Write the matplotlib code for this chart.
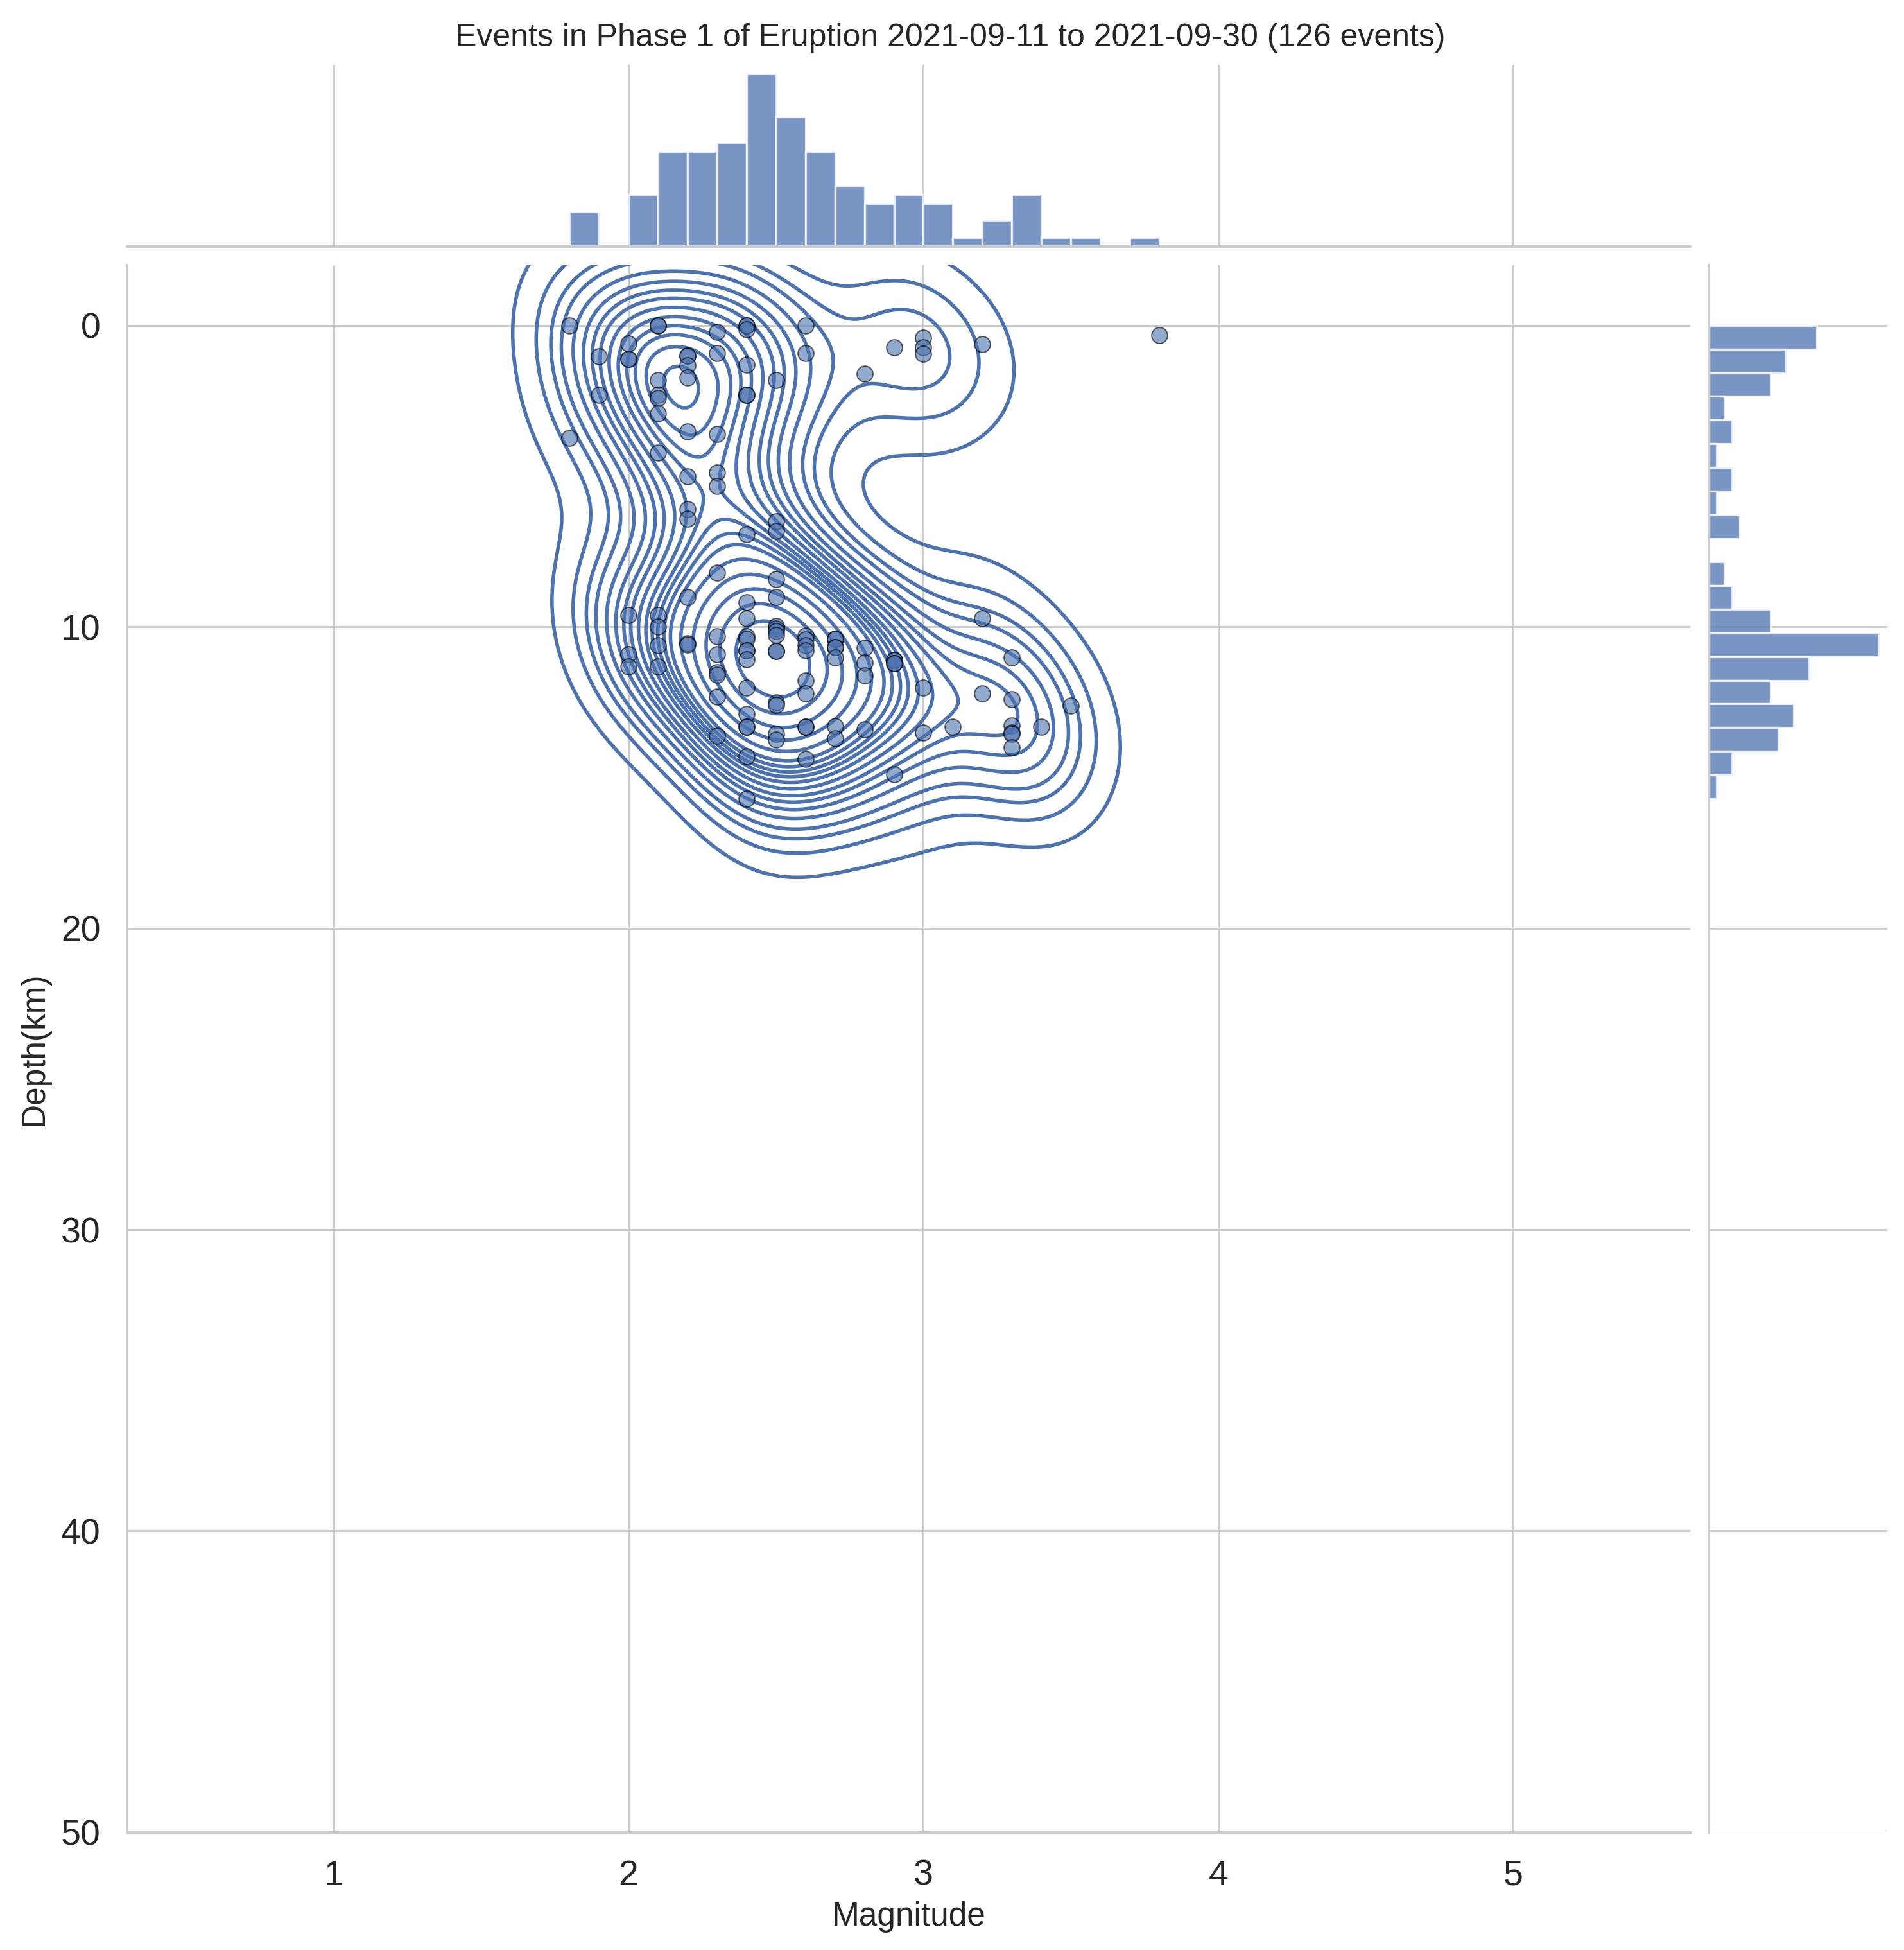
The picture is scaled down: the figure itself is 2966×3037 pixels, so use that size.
import numpy as np
import matplotlib
matplotlib.use("Agg")
import matplotlib.pyplot as plt
import seaborn as sns

# events, grouped by magnitude (one entry per event)
magnitude = [1.8, 1.8,
             1.9, 1.9,
             2.0, 2.0, 2.0, 2.0, 2.0, 2.0,
             2.1, 2.1, 2.1, 2.1, 2.1, 2.1, 2.1, 2.1, 2.1, 2.1, 2.1,
             2.2, 2.2, 2.2, 2.2, 2.2, 2.2, 2.2, 2.2, 2.2, 2.2, 2.2,
             2.3, 2.3, 2.3, 2.3, 2.3, 2.3, 2.3, 2.3, 2.3, 2.3, 2.3, 2.3,
             2.4, 2.4, 2.4, 2.4, 2.4, 2.4, 2.4, 2.4, 2.4, 2.4,
             2.4, 2.4, 2.4, 2.4, 2.4, 2.4, 2.4, 2.4, 2.4, 2.4,
             2.5, 2.5, 2.5, 2.5, 2.5, 2.5, 2.5, 2.5, 2.5, 2.5, 2.5, 2.5, 2.5, 2.5, 2.5,
             2.6, 2.6, 2.6, 2.6, 2.6, 2.6, 2.6, 2.6, 2.6, 2.6, 2.6,
             2.7, 2.7, 2.7, 2.7, 2.7, 2.7, 2.7,
             2.8, 2.8, 2.8, 2.8, 2.8,
             2.9, 2.9, 2.9, 2.9, 2.9, 2.9,
             3.0, 3.0, 3.0, 3.0, 3.0,
             3.1,
             3.2, 3.2, 3.2,
             3.3, 3.3, 3.3, 3.3, 3.3, 3.3,
             3.4,
             3.5,
             3.8]
depth = [0.0, 3.72,
         1.02, 2.31,
         0.59, 1.12, 1.12, 9.60, 10.90, 11.32,
         0.0, 0.0, 1.81, 2.30, 2.40, 2.92, 4.22, 9.60, 10.0, 10.61, 11.31,
         1.0, 1.0, 1.32, 1.73, 3.51, 5.01, 6.10, 6.41, 9.01, 10.54, 10.6,
         0.22, 0.91, 3.61, 4.89, 5.32, 8.21, 10.31, 10.90, 11.5, 11.59, 12.32, 13.61,
         0.0, 0.0, 0.13, 1.30, 2.31, 2.31, 6.92, 9.19, 9.72, 10.31,
         10.4, 10.79, 10.79, 11.07, 12.02, 12.90, 13.31, 13.31, 14.30, 15.70,
         1.81, 6.49, 6.81, 8.41, 9.01, 9.97, 10.05, 10.15, 10.26, 10.81, 10.81, 12.5, 12.6, 13.56, 13.74,
         0.0, 0.91, 10.29, 10.43, 10.61, 10.79, 11.79, 12.21, 13.31, 13.31, 14.39,
         10.4, 10.4, 10.68, 10.68, 11.02, 13.3, 13.69,
         1.61, 10.70, 11.19, 11.61, 13.40,
         0.72, 11.1, 11.1, 11.2, 11.2, 14.9,
         0.41, 0.72, 0.93, 12.02, 13.51,
         13.31,
         0.61, 9.71, 12.21,
         11.02, 12.40, 13.28, 13.5, 13.55, 14.0,
         13.31,
         12.62,
         0.32]

x_ticks = [1, 2, 3, 4, 5]
y_ticks = [0, 10, 20, 30, 40, 50]
title = "Events in Phase 1 of Eruption 2021-09-11 to 2021-09-30 (126 events)"

sns.set_theme(style="whitegrid")
plt.rcParams['font.family'] = ['Liberation Sans', 'DejaVu Sans']
plt.rcParams['axes.edgecolor'] = '#cccccc'
plt.rcParams['grid.color'] = '#cccccc'

blue = '#4C72B0'

fig = plt.figure(figsize=(14.83, 15.185), dpi=200)
ax = fig.add_axes([0.0668, 0.0603, 0.8209, 0.8037])
ax_top = fig.add_axes([0.0668, 0.8736, 0.8209, 0.0931], sharex=ax)
ax_right = fig.add_axes([0.8975, 0.0603, 0.0937, 0.8037], sharey=ax)

# joint: scatter + kde contours
sns.kdeplot(x=magnitude, y=depth, ax=ax, color=blue, levels=20, linewidths=2)
ax.scatter(magnitude, depth, s=80, color=blue, alpha=0.6, edgecolor='black', linewidth=0.7, zorder=3)

ax.set_xlim(0.3, 5.6)
ax.set_ylim(50, -2)
ax.set_xticks(x_ticks)
ax.set_yticks(y_ticks)
ax.tick_params(labelsize=20, length=0, pad=15)
ax.set_xlabel("Magnitude", fontsize=18.5, labelpad=5)
ax.set_ylabel("Depth(km)", fontsize=18.5, labelpad=6)
ax.grid(True, linewidth=1.1)
for s in ['top', 'right']:
    ax.spines[s].set_visible(False)
for s in ['left', 'bottom']:
    ax.spines[s].set_linewidth(1.5)

# marginal histograms
ax_top.hist(magnitude, bins=20, color=blue, alpha=0.75, edgecolor='white', linewidth=1.2)
ax_right.hist(depth, bins=20, orientation='horizontal', color=blue, alpha=0.75,
              edgecolor='white', linewidth=1.2)

ax_top.yaxis.grid(False)
ax_right.xaxis.grid(False)
for a in [ax_top, ax_right]:
    a.tick_params(labelbottom=False, labelleft=False, length=0)
    a.set_xlabel("")
    a.set_ylabel("")
    for s in a.spines.values():
        s.set_visible(False)
ax_top.spines['bottom'].set_visible(True)
ax_top.spines['bottom'].set_linewidth(1.5)
ax_right.spines['left'].set_visible(True)
ax_right.spines['left'].set_linewidth(1.5)

fig.suptitle(title, fontsize=18, x=0.499, y=0.988)

fig.savefig("out.png", dpi=200)
